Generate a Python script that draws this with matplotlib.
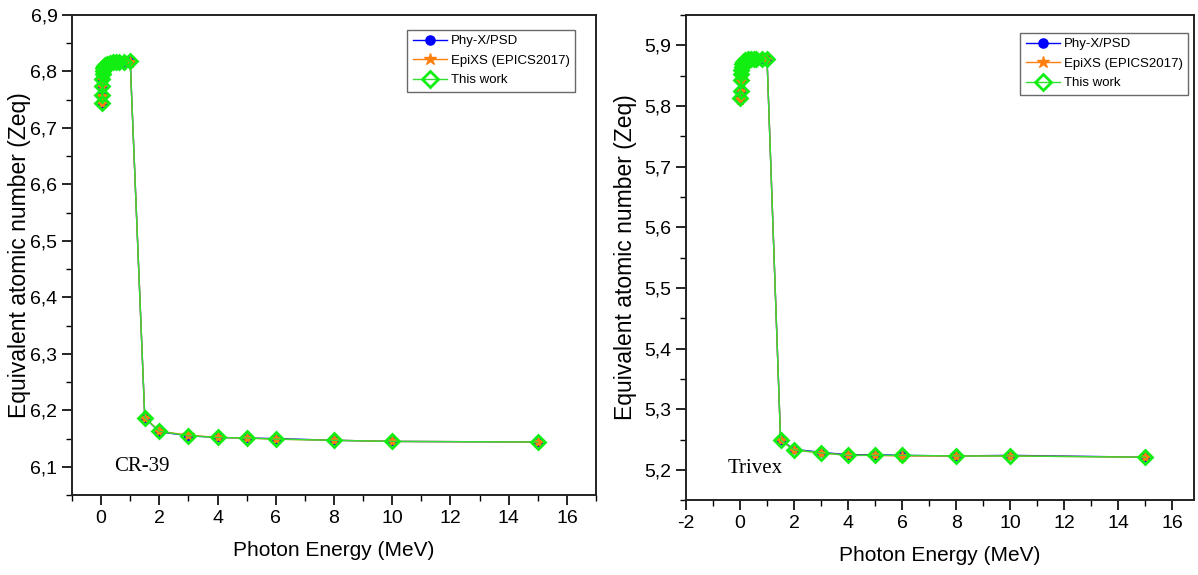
import matplotlib
matplotlib.use("Agg")
import matplotlib.pyplot as plt
from matplotlib.ticker import MultipleLocator, FuncFormatter

plt.rcParams['font.family'] = ['Liberation Sans', 'DejaVu Sans']

# ---------------- data ----------------
energy = [0.015, 0.02, 0.03, 0.04, 0.05, 0.06, 0.08, 0.1, 0.15, 0.2, 0.3, 0.4,
          0.5, 0.6, 0.8, 1.0, 1.5, 2, 3, 4, 5, 6, 8, 10, 15]

cr39_phyx = [6.745, 6.758, 6.775, 6.787, 6.795, 6.800, 6.806, 6.809, 6.812, 6.814,
             6.815, 6.816, 6.816, 6.816, 6.817, 6.818, 6.187, 6.162, 6.155, 6.152,
             6.151, 6.150, 6.147, 6.145, 6.144]
cr39_epixs = [6.744, 6.757, 6.774, 6.786, 6.794, 6.800, 6.805, 6.809, 6.812, 6.813,
              6.815, 6.815, 6.816, 6.816, 6.817, 6.817, 6.187, 6.163, 6.156, 6.152,
              6.151, 6.149, 6.147, 6.145, 6.144]
cr39_this = [6.745, 6.758, 6.775, 6.787, 6.795, 6.800, 6.806, 6.809, 6.812, 6.814,
             6.815, 6.816, 6.816, 6.816, 6.817, 6.818, 6.187, 6.163, 6.155, 6.152,
             6.151, 6.149, 6.147, 6.145, 6.144]

trivex_phyx = [5.813, 5.825, 5.842, 5.852, 5.859, 5.864, 5.869, 5.872, 5.874, 5.876,
               5.877, 5.877, 5.878, 5.878, 5.878, 5.877, 5.250, 5.234, 5.229, 5.225,
               5.225, 5.224, 5.223, 5.224, 5.221]
trivex_epixs = [5.812, 5.824, 5.841, 5.851, 5.858, 5.863, 5.868, 5.871, 5.873, 5.875,
                5.876, 5.877, 5.877, 5.877, 5.877, 5.877, 5.249, 5.233, 5.228, 5.224,
                5.224, 5.223, 5.223, 5.223, 5.221]
trivex_this = [5.813, 5.825, 5.842, 5.852, 5.859, 5.864, 5.869, 5.872, 5.874, 5.876,
               5.877, 5.877, 5.878, 5.878, 5.878, 5.877, 5.249, 5.233, 5.228, 5.224,
               5.224, 5.224, 5.223, 5.223, 5.221]

labels = ["Phy-X/PSD", "EpiXS (EPICS2017)", "This work"]
xlabel = "Photon Energy (MeV)"
ylabel = "Equivalent atomic number (Zeq)"

BLUE = "#0000FF"
ORANGE = "#FF7F0E"
GREEN = "#33DD33"

comma = FuncFormatter(lambda v, p: ("%g" % round(v, 3)).replace(".", ","))
comma1 = FuncFormatter(lambda v, p: ("%.1f" % v).replace(".", ","))

fig = plt.figure(figsize=(11.98, 5.75), dpi=100)
ax1 = fig.add_axes([0.0601, 0.139, 0.4374, 0.835])
ax2 = fig.add_axes([0.5726, 0.130, 0.4241, 0.844])


def draw(ax, a, b, c, xlim, ylim, name, name_xy, legend_anchor, ylab_x):
    ax.plot(energy, a, color=BLUE, lw=1, marker='o', ms=6, mfc=BLUE, mec=BLUE, label=labels[0], zorder=3)
    ax.plot(energy, b, color=ORANGE, lw=1, marker='*', ms=8.5, mfc=ORANGE, mec=ORANGE, label=labels[1], zorder=4)
    ax.plot(energy, c, color=GREEN, lw=1, marker='D', ms=7.5, mfc='none', mec='#11EE11', mew=2.0, label=labels[2], zorder=5)
    ax.set_xlim(*xlim)
    ax.set_ylim(*ylim)
    ax.xaxis.set_major_locator(MultipleLocator(2))
    ax.xaxis.set_minor_locator(MultipleLocator(1))
    ax.yaxis.set_major_locator(MultipleLocator(0.1))
    ax.yaxis.set_minor_locator(MultipleLocator(0.05))
    ax.xaxis.set_major_formatter(comma)
    ax.yaxis.set_major_formatter(comma1)
    ax.tick_params(which='major', direction='out', length=7, width=1.2, labelsize=14, colors='black')
    ax.tick_params(which='minor', direction='out', length=4, width=1.0)
    for s in ax.spines.values():
        s.set_linewidth(1.4)
        s.set_color('#222222')
    ax.set_xlabel(xlabel, fontsize=15, labelpad=10)
    ax.set_ylabel(ylabel, fontsize=16.5)
    ax.yaxis.set_label_coords(ylab_x, 0.5)
    ax.text(name_xy[0], name_xy[1], name, family=['Liberation Serif', 'DejaVu Serif'],
            fontsize=15, va='center', ha='left')
    leg = ax.legend(loc='upper right', bbox_to_anchor=legend_anchor, fontsize=9.5,
                    frameon=True, fancybox=False, edgecolor='#444444', handlelength=2.6,
                    labelspacing=0.55, borderpad=0.4, handletextpad=0.3, borderaxespad=0,
                    markerscale=1.1)
    leg.get_frame().set_linewidth(1.0)


draw(ax1, cr39_phyx, cr39_epixs, cr39_this, (-1, 17), (6.05, 6.9), "CR-39", (0.45, 6.1), (0.96, 0.969), -0.078)
draw(ax2, trivex_phyx, trivex_epixs, trivex_this, (-2, 16.8), (5.15, 5.95), "Trivex", (-0.45, 5.203), (0.988, 0.963), -0.097)

fig.savefig("out.png", dpi=100)
